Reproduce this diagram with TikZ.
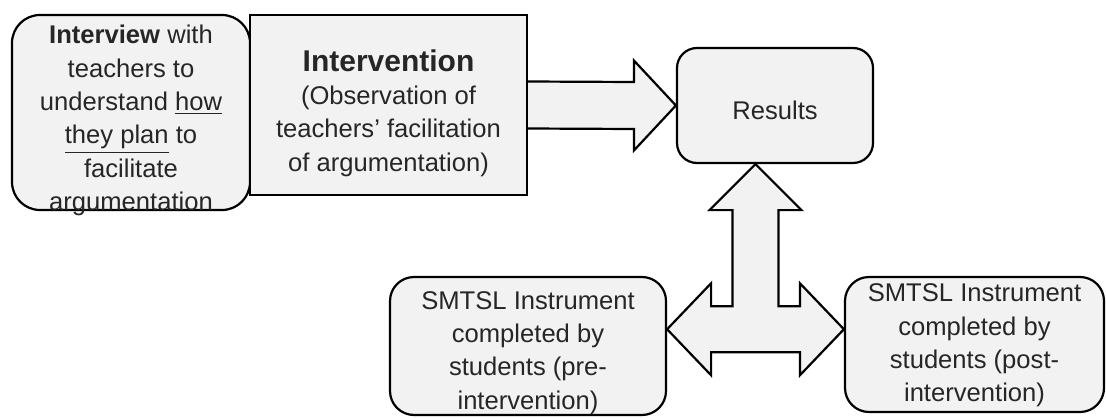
\documentclass[tikz,border=0pt]{standalone}
\usepackage{fontspec}
\setmainfont{Liberation Sans}
\usetikzlibrary{calc}

\begin{document}
\begin{tikzpicture}[x=0.5pt,y=-0.5pt,
  box/.style={draw,line width=1.1pt,fill=black!5,inner sep=0pt},
  roundbox/.style={box,rounded corners=12pt},
  boxtext/.style={align=center,text=black!85,inner sep=0pt,
    font=\fontsize{12.8}{16.7}\selectfont},
  blockarrow/.style={draw,line width=1.1pt,fill=black!5,line join=miter}]
\useasboundingbox (0,0) rectangle (1106,417);
\node[roundbox,rounded corners=14pt,minimum width=119pt,minimum height=97.5pt,
  label={[boxtext,yshift=-4pt]center:{\textbf{Interview} with\\teachers to\\understand \underline{how}\\\underline{they plan} to\\facilitate\\argumentation}}]
  (interview) at (131,112.5) {};
\node[box,minimum width=138.5pt,minimum height=90pt,
  label={[boxtext,yshift=-4pt]center:{{\fontsize{15}{18}\selectfont\textbf{Intervention}}\\(Observation of\\teachers’ facilitation\\of argumentation)}}]
  (interv) at (388.5,105) {};
\node[roundbox,rounded corners=10pt,minimum width=98pt,minimum height=57.5pt,
  label={[boxtext,yshift=-2.5pt]center:Results}] (results) at (775,105.5) {};
\node[roundbox,minimum width=138pt,minimum height=69pt,
  label={[boxtext,yshift=-3.5pt]center:{SMTSL Instrument\\completed by\\students (pre-\\intervention)}}]
  (pre) at (528,346) {};
\node[roundbox,minimum width=129.5pt,minimum height=67.5pt,
  label={[boxtext,yshift=-0.5pt]center:{SMTSL Instrument\\completed by\\students (post-\\intervention)}}]
  (post) at (974.5,344.5) {};
\draw[blockarrow] ($(interv.east)+(0,-23.5)$) -- ($(results.west)+(-42,-23.5)$)
  -- ($(results.west)+(-42,-45)$) -- (results.west) -- ($(results.west)+(-42,45)$)
  -- ($(results.west)+(-42,23.5)$) -- ($(interv.east)+(0,23.5)$);
\coordinate (hub) at ($(pre.east)!0.5!(post.west)+(0,-16)$);
\coordinate (uptip) at (hub |- results.south);
\coordinate (lefttip) at (hub -| pre.east);
\coordinate (righttip) at (hub -| post.west);
\draw[blockarrow] (uptip) -- ($(uptip)+(46,46)$) -- ($(uptip)+(23,46)$) -- ($(hub)+(23,-23)$)
  -- ($(righttip)+(-44,-23)$) -- ($(righttip)+(-44,-46)$) -- (righttip)
  -- ($(righttip)+(-44,46)$) -- ($(righttip)+(-44,23)$)
  -- ($(lefttip)+(44,23)$) -- ($(lefttip)+(44,46)$) -- (lefttip)
  -- ($(lefttip)+(44,-46)$) -- ($(lefttip)+(44,-23)$) -- ($(hub)+(-23,-23)$)
  -- ($(uptip)+(-23,46)$) -- ($(uptip)+(-46,46)$) -- cycle;
\end{tikzpicture}
\end{document}
